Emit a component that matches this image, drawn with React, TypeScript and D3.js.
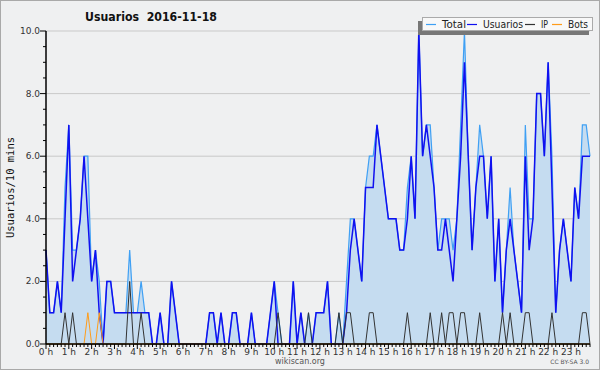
import * as d3 from 'd3';

// one value every 10 minutes, 144 points for the day
const usuarios = [
  3, 1, 1, 2, 1, 4, 7, 2, 3, 4, 6, 4, 2, 3, 1, 0, 2, 2, 1, 1, 1, 1, 1, 1,
  1, 1, 1, 1, 0, 0, 1, 0, 0, 2, 1, 0, 0, 0, 0, 0, 0, 0, 0, 1, 1, 0, 1, 0,
  0, 1, 1, 0, 0, 0, 1, 0, 0, 0, 0, 1, 2, 0, 0, 0, 0, 2, 0, 1, 0, 0, 0, 1,
  1, 1, 2, 0, 0, 0, 0, 1, 3, 4, 3, 2, 5, 5, 5, 7, 6, 5, 4, 4, 4, 3, 3, 4,
  6, 4, 10, 6, 7, 6, 5, 3, 3, 4, 3, 2, 4, 6, 9, 6, 3, 5, 6, 6, 4, 6, 2, 4,
  1, 3, 4, 3, 2, 1, 6, 3, 4, 8, 8, 6, 9, 5, 1, 3, 4, 3, 2, 5, 4, 6, 6, 6
];
const total = [
  3, 1, 1, 2, 1, 5, 7, 3, 3, 4, 6, 6, 2, 3, 2, 0, 2, 2, 1, 1, 1, 1, 3, 1,
  1, 2, 1, 1, 0, 0, 1, 0, 0, 2, 1, 0, 0, 0, 0, 0, 0, 0, 0, 1, 1, 0, 1, 0,
  0, 1, 1, 0, 0, 0, 1, 0, 0, 0, 0, 1, 2, 1, 0, 0, 0, 2, 0, 1, 0, 1, 0, 1,
  1, 1, 2, 0, 0, 1, 0, 2, 4, 4, 3, 2, 5, 6, 6, 7, 6, 5, 4, 4, 4, 3, 3, 5,
  6, 4, 10, 6, 7, 7, 5, 3, 4, 4, 4, 3, 4, 7, 10, 6, 3, 5, 7, 6, 4, 6, 2, 4,
  1, 3, 5, 3, 2, 1, 7, 4, 4, 8, 8, 6, 9, 6, 1, 3, 4, 3, 2, 5, 4, 7, 7, 6
];
const ip = [
  0, 0, 0, 0, 0, 1, 0, 1, 0, 0, 0, 0, 0, 0, 0, 0, 0, 0, 0, 0, 0, 0, 2, 0,
  0, 1, 0, 0, 0, 0, 0, 0, 0, 0, 0, 0, 0, 0, 0, 0, 0, 0, 0, 0, 0, 0, 0, 0,
  0, 0, 0, 0, 0, 0, 0, 0, 0, 0, 0, 0, 0, 1, 0, 0, 0, 0, 0, 0, 0, 1, 0, 0,
  0, 0, 0, 0, 0, 1, 0, 1, 1, 0, 0, 0, 0, 1, 1, 0, 0, 0, 0, 0, 0, 0, 0, 1,
  0, 0, 0, 0, 0, 1, 0, 0, 1, 0, 1, 1, 0, 1, 1, 0, 0, 0, 1, 0, 0, 0, 0, 0,
  1, 0, 1, 0, 0, 0, 1, 1, 0, 0, 0, 0, 0, 1, 0, 0, 0, 0, 0, 0, 0, 1, 1, 0
];
const bots = [
  0, 0, 0, 0, 0, 0, 0, 0, 0, 0, 0, 1, 0, 0, 1, 0, 0, 0, 0, 0, 0, 0, 0, 0,
  0, 0, 0, 0, 0, 0, 0, 0, 0, 0, 0, 0, 0, 0, 0, 0, 0, 0, 0, 0, 0, 0, 0, 0,
  0, 0, 0, 0, 0, 0, 0, 0, 0, 0, 0, 0, 0, 0, 0, 0, 0, 0, 0, 0, 0, 0, 0, 0,
  0, 0, 0, 0, 0, 0, 0, 0, 0, 0, 0, 0, 0, 0, 0, 0, 0, 0, 0, 0, 0, 0, 0, 0,
  0, 0, 0, 0, 0, 0, 0, 0, 0, 0, 0, 0, 0, 0, 0, 0, 0, 0, 0, 0, 0, 0, 0, 0,
  0, 0, 0, 0, 0, 0, 0, 0, 0, 0, 0, 0, 0, 0, 0, 0, 0, 0, 0, 0, 0, 0, 0, 0
];
const hourLabels = [
  '0 h', '1 h', '2 h', '3 h', '4 h', '5 h', '6 h', '7 h', '8 h', '9 h', '10 h', '11 h',
  '12 h', '13 h', '14 h', '15 h', '16 h', '17 h', '18 h', '19 h', '20 h', '21 h', '22 h', '23 h'
];
const yTicks = [0, 2, 4, 6, 8, 10];
const legendItems = [
  { name: 'Total', color: '#3fa0f4' },
  { name: 'Usuarios', color: '#1010f0' },
  { name: 'IP', color: '#333333' },
  { name: 'Bots', color: '#ff9c1a' }
];

const W = 600;
const H = 370;
const left = 46;
const right = 590;
const top = 31;
const bottom = 344;
const font = '"DejaVu Sans", Verdana, sans-serif';

// legend layout: where each swatch starts and how wide its label is
const legendX = [426, 467, 525, 552];
const legendTextW = [24, 40, 7, 20];

export default function App() {
  const x = d3.scaleLinear().domain([0, usuarios.length - 1]).range([left, right]);
  const y = d3.scaleLinear().domain([0, 10]).range([bottom, top]);

  const line = d3.line<number>().x((_, i) => x(i)).y(d => y(d));
  const area = d3.area<number>().x((_, i) => x(i)).y0(bottom).y1(d => y(d));

  const minorY = d3.range(0, 10.01, 0.5);
  const stepsPerHour = usuarios.length / 24;

  return (
    <svg
      width={W}
      height={H}
      style={{ position: 'absolute', left: 0, top: 0, display: 'block' }}
      fontFamily={font}
    >
      <rect x={0.5} y={0.5} width={W - 1} height={H - 1} fill="#eff0f1" stroke="#a9a9a9" />

      {/* grid */}
      {yTicks.filter(t => t > 0).map(t => (
        <line key={t} x1={left} x2={right} y1={y(t)} y2={y(t)} stroke="#c9c9c9" strokeWidth={1} />
      ))}

      {/* series */}
      <path d={area(total) || ''} fill="#c5dcf0" />
      <path d={line(total) || ''} fill="none" stroke="#3fa0f4" strokeWidth={1.2} />
      <path d={line(usuarios) || ''} fill="none" stroke="#1010f0" strokeWidth={1.5} />
      <path d={line(ip) || ''} fill="none" stroke="#333333" strokeWidth={1} />
      <path d={line(bots) || ''} fill="none" stroke="#ff9c1a" strokeWidth={1} />

      {/* y axis */}
      <line x1={left} x2={left} y1={top} y2={bottom} stroke="#000" strokeWidth={1.5} />
      {minorY.map(t => (
        <line key={t} x1={left - (t % 2 === 0 ? 6 : 3)} x2={left} y1={y(t)} y2={y(t)} stroke="#000" />
      ))}
      {yTicks.map(t => (
        <text key={t} x={left - 6} y={y(t) + 3} fontSize={9} textAnchor="end" fill="#333">
          {d3.format('.1f')(t)}
        </text>
      ))}

      {/* x axis */}
      <line x1={left} x2={right} y1={bottom} y2={bottom} stroke="#000" strokeWidth={1.5} />
      {d3.range(usuarios.length).map(i => (
        <line key={i} x1={x(i)} x2={x(i)} y1={bottom} y2={bottom + (i % stepsPerHour === 0 ? 5 : 3)} stroke="#000" />
      ))}
      {hourLabels.map((h, i) => (
        <text key={h} x={x(i * stepsPerHour)} y={bottom + 11} fontSize={9} textAnchor="middle" fill="#333">
          {h}
        </text>
      ))}

      {/* titles */}
      <text
        x={85}
        y={21}
        fontSize={13}
        fontWeight="bold"
        fill="#111"
        style={{ whiteSpace: 'pre' }}
        textLength={132}
        lengthAdjust="spacingAndGlyphs"
      >
        {'Usuarios  2016-11-18'}
      </text>
      <text
        transform={`translate(14, ${(top + bottom) / 2}) rotate(-90)`}
        fontSize={10.5}
        fontFamily='"DejaVu Sans Mono", monospace'
        textAnchor="middle"
        fill="#111"
      >
        Usuarios/10 mins
      </text>
      <text x={300} y={364} fontSize={8} textAnchor="middle" fill="#555">wikiscan.org</text>
      <text x={589} y={364} fontSize={6} textAnchor="end" fill="#555">CC BY-SA 3.0</text>

      {/* legend */}
      <rect x={418} y={21} width={171} height={14} fill="#777" />
      <rect x={422.5} y={17.5} width={170} height={13} fill="#f8f8f8" stroke="#aaa" />
      {legendItems.map((it, i) => (
        <g key={it.name}>
          <line x1={legendX[i]} x2={legendX[i] + 10} y1={24.5} y2={24.5} stroke={it.color} strokeWidth={1.2} />
          <text
            x={legendX[i] + 16}
            y={28}
            fontSize={10}
            fill="#222"
            textLength={legendTextW[i]}
            lengthAdjust="spacingAndGlyphs"
          >
            {it.name}
          </text>
        </g>
      ))}
    </svg>
  );
}
